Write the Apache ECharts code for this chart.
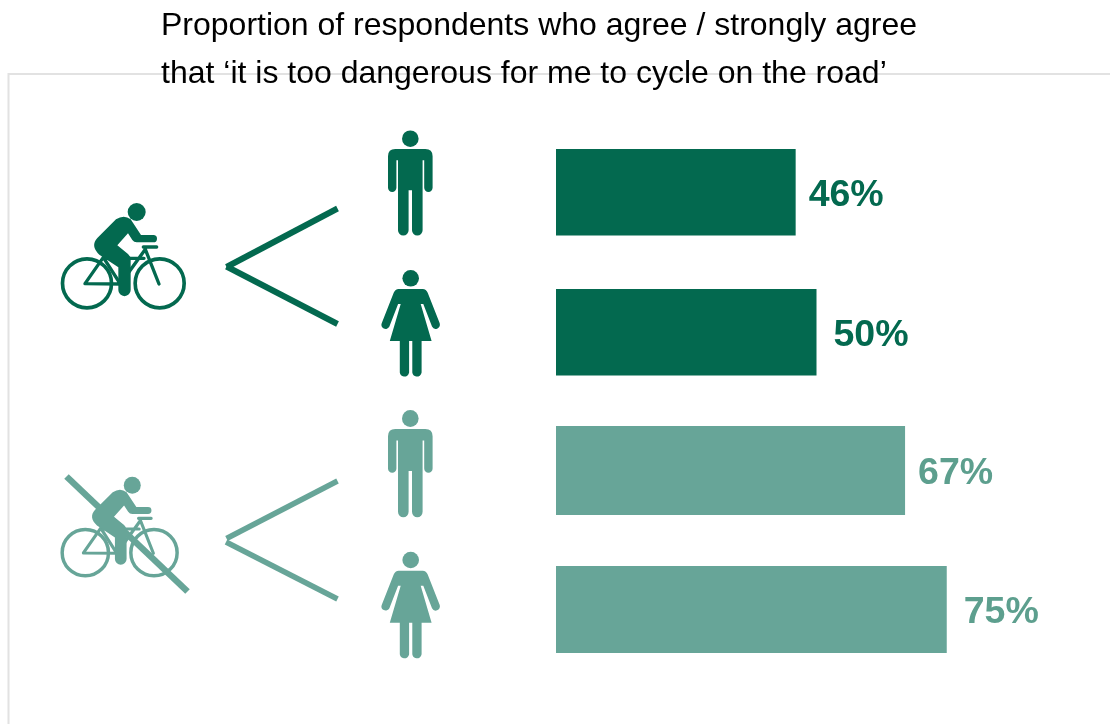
<!DOCTYPE html>
<html>
<head>
<meta charset="utf-8">
<style>html,body{margin:0;padding:0;background:#fff}#chart{width:1110px;height:724px}</style>
<script src="https://cdn.jsdelivr.net/npm/echarts@6/dist/echarts.min.js"></script>
</head>
<body>
<div id="chart"></div>
<script>
// Survey results, one row per group
const categories = ['Cyclists, men', 'Cyclists, women', 'Non-cyclists, men', 'Non-cyclists, women'];
const agreePercent = [46, 50, 67, 75];
const titleLines = [
  'Proportion of respondents who agree / strongly agree',
  'that \u2018it is too dangerous for me to cycle on the road\u2019'
];

const DARK = '#03694f';
const LIGHT = '#67a598';
const LIGHT_TEXT = '#5d9f8e';
const rowColors = [DARK, DARK, LIGHT, LIGHT];
const rowTextColors = [DARK, DARK, LIGHT_TEXT, LIGHT_TEXT];

// Rows are not evenly spaced, so each bar has its own grid
const rowTops = [149, 289, 426, 566];
const rowHeights = [86.5, 86.5, 89, 87];
const labelShift = [0, 4, 0, 4];
const AXIS_LEFT = 556;
const AXIS_WIDTH = 521;

// Pictogram outlines, registered as shapes the graphic component can use
const HEAD_R = 8.3;
const shapePaths = {
  manBody:
    'M-22.3,17.5 Q-22.3,10.3 -15,10.3 L15,10.3 Q22.3,10.3 22.3,17.5 L22.3,49 ' +
    'A4.2,4.2 0 0 1 13.9,49 L13.9,21.5 L12.3,21.5 L12.3,91.5 A5.3,5.3 0 0 1 1.7,91.5 ' +
    'L1.7,51.5 L-1.7,51.5 L-1.7,91.5 A5.3,5.3 0 0 1 -12.3,91.5 L-12.3,21.5 L-13.9,21.5 ' +
    'L-13.9,49 A4.2,4.2 0 0 1 -22.3,49 Z',
  womanBody:
    'M-12,10.7 L12,10.7 Q15.5,10.7 17,14.5 L29,45 A4.2,4.2 0 0 1 21.3,48.3 L12.6,25.7 L10,25.7 ' +
    'L20.9,62.7 L10.9,62.7 L10.9,94.3 A4.7,4.7 0 0 1 1.6,94.3 L1.6,62.7 L-1.6,62.7 L-1.6,94.3 ' +
    'A4.7,4.7 0 0 1 -10.9,94.3 L-10.9,62.7 L-20.9,62.7 L-10,25.7 L-12.6,25.7 L-21.3,48.3 ' +
    'A4.2,4.2 0 0 1 -29,45 L-17,14.5 Q-15.5,10.7 -12,10.7 Z',
  rider:
    'M228,118 Q252,102 272,118 L303,165 L340,165 A11,11 0 0 1 340,187 L290,187 ' +
    'Q282,187 277,180 L264,160 L232,196 L264,222 Q272,228 272,240 L272,330 ' +
    'A18.5,18.5 0 0 1 235,330 L235,262 L178,224 Q150,198 172,174 Z',
  bikeFrame:
    'M135,311 L190,232 L241,312 Z M190,235 L312,235 M241,312 L316,208 L357,312 M310,201 L350,201'
};
Object.keys(shapePaths).forEach(name => {
  echarts.graphic.registerShape(name, echarts.graphic.extendPath(shapePaths[name], {}));
});

function figure(shapeName, x, y, color, stretch) {
  return { type: 'group', x, y, scaleY: stretch || 1, silent: true, children: [
    { type: 'circle', shape: { cx: 0, cy: 0, r: HEAD_R }, style: { fill: color } },
    { type: shapeName, style: { fill: color } }
  ] };
}

function cyclist(x, y, scale, color) {
  const wheel = cx => ({ type: 'circle', shape: { cx, cy: 310, r: 73.5 },
    style: { fill: 'none', stroke: color, lineWidth: 11 } });
  return { type: 'group', x, y, scaleX: scale, scaleY: scale, silent: true, children: [
    wheel(141), wheel(359),
    { type: 'bikeFrame',
      style: { fill: 'none', stroke: color, lineWidth: 10, lineCap: 'round', lineJoin: 'round' } },
    { type: 'rider', style: { fill: color } },
    { type: 'circle', shape: { cx: 290, cy: 96, r: 27 }, style: { fill: color } }
  ] };
}

function stroke(x1, y1, x2, y2, color, width) {
  return { type: 'line', silent: true, shape: { x1, y1, x2, y2 }, style: { stroke: color, lineWidth: width } };
}

const graphicElements = [
  // Panel frame
  { type: 'polyline', silent: true, z: -1, shape: { points: [[8.5, 724], [8.5, 74], [1110, 74]] },
    style: { fill: 'none', stroke: '#e2e2e2', lineWidth: 2 } },
  // Cyclists
  cyclist(40, 180, 1 / 3, DARK),
  stroke(337.5, 208.5, 226.5, 267, DARK, 6),
  stroke(226.5, 266.5, 337.5, 324, DARK, 6),
  figure('manBody', 410.3, 138.7, DARK),
  figure('womanBody', 410.7, 278.3, DARK),
  // Non-cyclists
  cyclist(40.9, 455, 0.315, LIGHT),
  stroke(66.5, 476.5, 187.5, 591.5, LIGHT, 6.5),
  stroke(337.5, 481, 226.5, 538.5, LIGHT, 5.5),
  stroke(226, 542, 337.5, 599, LIGHT, 5.5),
  figure('manBody', 410.3, 418.5, LIGHT, 1.02),
  figure('womanBody', 410.7, 560, LIGHT)
];

const chart = echarts.init(document.getElementById('chart'), null, { renderer: 'canvas' });
chart.setOption({
  animation: false,
  title: titleLines.map((text, i) => ({
    text,
    left: 161,
    top: 10.5 + i * 48,
    padding: 0,
    textStyle: { fontFamily: '"Liberation Sans", Arial, sans-serif', fontSize: 32, fontWeight: 'normal', color: '#000' }
  })),
  grid: categories.map((_, i) => ({
    left: AXIS_LEFT, width: AXIS_WIDTH, top: rowTops[i], height: rowHeights[i]
  })),
  xAxis: categories.map((_, i) => ({ type: 'value', gridIndex: i, min: 0, max: 100, show: false })),
  yAxis: categories.map((name, i) => ({ type: 'category', gridIndex: i, data: [name], show: false })),
  series: categories.map((name, i) => ({
    type: 'bar',
    name,
    xAxisIndex: i,
    yAxisIndex: i,
    barWidth: '100%',
    data: [agreePercent[i]],
    itemStyle: { color: rowColors[i] },
    label: {
      show: true,
      position: 'right',
      distance: 13,
      offset: [labelShift[i], 3],
      formatter: '{c}%',
      fontFamily: '"Liberation Sans", Arial, sans-serif',
      fontSize: 37.5,
      fontWeight: 'bold',
      color: rowTextColors[i]
    }
  })),
  graphic: { elements: graphicElements }
});
</script>
</body>
</html>
